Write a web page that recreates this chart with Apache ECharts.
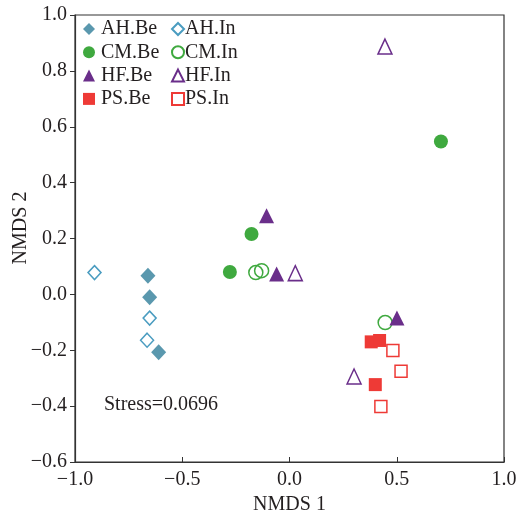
<!DOCTYPE html>
<html>
<head>
<meta charset="utf-8">
<script src="https://cdn.jsdelivr.net/npm/echarts@6/dist/echarts.min.js"></script>
<style>
  html, body { margin: 0; padding: 0; background: #fff; }
  #main { width: 521px; height: 516px; }
</style>
</head>
<body>
<div id="main"></div>
<script>
// NMDS scores, [NMDS1, NMDS2]
var ahBe = [[-0.660, 0.067], [-0.652, -0.010], [-0.610, -0.207]];
var ahIn = [[-0.909, 0.078], [-0.652, -0.085], [-0.664, -0.164]];
var cmBe = [[-0.278, 0.080], [-0.177, 0.216], [0.706, 0.547]];
var cmIn = [[-0.157, 0.078], [-0.130, 0.085], [0.446, -0.101]];
var hfBe = [[-0.107, 0.281], [-0.060, 0.073], [0.501, -0.085]];
var hfIn = [[0.027, 0.076], [0.445, 0.887], [0.301, -0.294]];
var psBe = [[0.381, -0.170], [0.420, -0.165], [0.400, -0.323]];
var psIn = [[0.482, -0.201], [0.520, -0.275], [0.426, -0.401]];
var stressText = 'Stress=0.0696';

var FONT = 'Liberation Serif';
var TXT = '#231f20';
var AXC = '#333333';

var colAH = '#5a98ae', colAHo = '#4a9cc0';
var colCM = '#3fa93f';
var colHF = '#6a2e8a';
var colPS = '#ee3a36';

function filled(name, data, symbol, size, color) {
    return {
        name: name, type: 'scatter', data: data,
        symbol: symbol, symbolSize: size,
        itemStyle: { color: color, opacity: 1 },
        emphasis: { disabled: true }
    };
}
function open(name, data, symbol, size, color) {
    return {
        name: name, type: 'scatter', data: data,
        symbol: symbol, symbolSize: size,
        itemStyle: { color: 'rgba(255,255,255,0)', borderColor: color, borderWidth: 1.5, opacity: 1 },
        emphasis: { disabled: true }
    };
}
function fmt(v) {
    var s = v.toFixed(1);
    return s.charAt(0) == '-' ? '\u2212' + s.slice(1) : s;
}

var chart = echarts.init(document.getElementById('main'));
var option = {
    animation: false,
    backgroundColor: '#fff',
    title: {
        text: stressText, left: 99, top: 390,
        textStyle: { fontFamily: FONT, fontSize: 20, fontWeight: 'normal', color: TXT }
    },
    graphic: [{
        type: 'text', x: 21, y: 228, rotation: Math.PI / 2,
        style: {
            text: 'NMDS 2', fontFamily: FONT, fontSize: 20, fill: TXT,
            align: 'center', verticalAlign: 'middle'
        }
    }],
    legend: [{
        orient: 'vertical', left: 83, top: 19, padding: 0,
        itemWidth: 12, itemHeight: 12, itemGap: 3.3,
        textStyle: { fontFamily: FONT, fontSize: 20, color: TXT, lineHeight: 20, padding: [0, 0, 0, 1] },
        data: ['AH.Be', 'CM.Be', 'HF.Be', 'PS.Be']
    }, {
        orient: 'vertical', left: 171, top: 19, padding: 0,
        itemWidth: 12, itemHeight: 12, itemGap: 3.3,
        textStyle: { fontFamily: FONT, fontSize: 20, color: TXT, lineHeight: 20, padding: [0, 0, 0, -4] },
        data: ['AH.In', 'CM.In', 'HF.In', 'PS.In']
    }],
    grid: {
        left: 75, right: 17, top: 15, bottom: 54,
        outerBoundsMode: 'none', containLabel: false,
        show: true, borderColor: AXC, borderWidth: 1.2
    },
    xAxis: {
        type: 'value', min: -1, max: 1, interval: 0.5,
        name: 'NMDS 1', nameLocation: 'middle', nameGap: 26,
        nameTextStyle: { fontFamily: FONT, fontSize: 20, color: TXT },
        axisLine: { show: true, onZero: false, lineStyle: { color: AXC, width: 1.2 } },
        axisTick: { show: true, inside: true, length: 5, lineStyle: { color: AXC } },
        axisLabel: { formatter: fmt, fontFamily: FONT, fontSize: 20, color: TXT, margin: 8 },
        splitLine: { show: false }
    },
    yAxis: {
        type: 'value', min: -0.6, max: 1, interval: 0.2,
        axisLine: { show: true, onZero: false, lineStyle: { color: AXC, width: 1.2 } },
        axisTick: { show: true, length: 5, lineStyle: { color: AXC } },
        axisLabel: { formatter: fmt, fontFamily: FONT, fontSize: 20, color: TXT, margin: 8 },
        splitLine: { show: false }
    },
    series: [
        filled('AH.Be', ahBe, 'diamond', [15, 16], colAH),
        open('AH.In', ahIn, 'diamond', [13, 14], colAHo),
        filled('CM.Be', cmBe, 'circle', 14, colCM),
        open('CM.In', cmIn, 'circle', 14, colCM),
        filled('HF.Be', hfBe, 'triangle', [15, 15], colHF),
        open('HF.In', hfIn, 'triangle', [14, 15], colHF),
        filled('PS.Be', psBe, 'rect', 13, colPS),
        open('PS.In', psIn, 'rect', 12, colPS)
    ]
};
chart.setOption(option);
window.addEventListener('resize', function () {
    chart.resize();
});
</script>
</body>
</html>
